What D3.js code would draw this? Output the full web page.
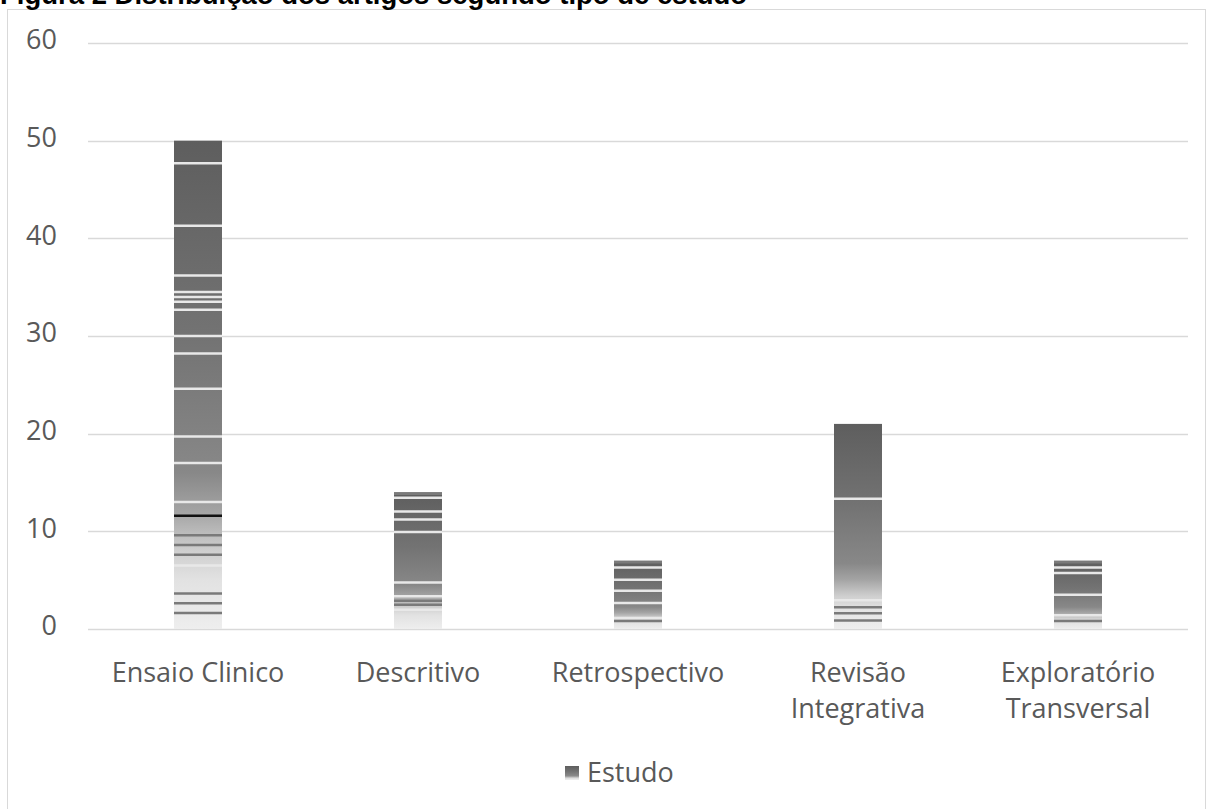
<!DOCTYPE html>
<html>
<head>
<meta charset="utf-8">
<script src="https://cdn.jsdelivr.net/npm/d3@7"></script>
<style>
  body { margin: 0; background: #fff; }
  svg text { font-family: "Open Sans", "Noto Sans", sans-serif; fill: #595959; }
</style>
</head>
<body>
<script>
// values
const categories = [["Ensaio Clinico"], ["Descritivo"], ["Retrospectivo"], ["Revisão", "Integrativa"], ["Exploratório", "Transversal"]];
const values = [50, 14, 7, 21, 7];
const yTicks = [0, 10, 20, 30, 40, 50, 60];
const seriesName = "Estudo";
const title = "Figura 2 Distribuição dos artigos segundo tipo de estudo";

// banding of the original fill, as fractions of each bar from its top
const stripesLight = [
  [0.046, 0.174, 0.276, 0.31, 0.32, 0.33, 0.346, 0.4, 0.436, 0.508, 0.606, 0.66, 0.74, 0.87],
  [0.04, 0.14, 0.2, 0.29, 0.66, 0.76, 0.86],
  [0.1, 0.28, 0.44, 0.62, 0.84],
  [0.365, 0.86],
  [0.1, 0.18, 0.5, 0.8]
];
const stripesDark = [
  [0.77, 0.81, 0.83, 0.85, 0.93, 0.95, 0.97],
  [0.0, 0.8, 0.83],
  [0.0, 0.9],
  [0.9, 0.93, 0.965],
  [0.0, 0.9]
];

const width = 1207, height = 809;
const margin = {left: 88, right: 19, top: 43};

const svg = d3.select("body").append("svg")
    .attr("width", width)
    .attr("height", height);

// chart frame
svg.append("rect")
    .attr("x", 7.5).attr("y", 9.5)
    .attr("width", 1198).attr("height", 820)
    .attr("fill", "none")
    .attr("stroke", "#d9d9d9");

svg.append("text")
    .attr("x", 0).attr("y", 4)
    .style("font-family", "'Liberation Sans', Arial, sans-serif")
    .style("font-weight", "bold")
    .style("font-size", "27.5px")
    .style("fill", "#000")
    .text(title);

const x = d3.scaleBand()
    .domain(d3.range(categories.length))
    .range([margin.left, width - margin.right]);

const y = d3.scaleLinear()
    .domain([0, 60])
    .range([629, margin.top]);

// gridlines
svg.append("g")
    .selectAll("line")
    .data(yTicks)
    .join("line")
    .attr("x1", margin.left).attr("x2", width - margin.right)
    .attr("y1", d => Math.round(y(d)) + 0.5).attr("y2", d => Math.round(y(d)) + 0.5)
    .attr("stroke", "#d9d9d9")
    .attr("stroke-width", 1.3);

// y labels
svg.append("g")
    .selectAll("text")
    .data(yTicks)
    .join("text")
    .attr("x", 57)
    .attr("y", d => y(d) - 3)
    .attr("dy", "0.35em")
    .attr("text-anchor", "end")
    .style("font-size", "27px")
    .text(d => d);

// gradient fill that imitates the grey of the original
const defs = svg.append("defs");
const grad = defs.append("linearGradient")
    .attr("id", "barGrad")
    .attr("x1", 0).attr("y1", 0).attr("x2", 0).attr("y2", 1);
[[0, "#5e5e5e"], [0.4, "#737373"], [0.68, "#888888"], [0.76, "#a4a4a4"],
 [0.84, "#cfcfcf"], [0.9, "#e2e2e2"], [1, "#eeeeee"]]
  .forEach(s => grad.append("stop").attr("offset", s[0]).attr("stop-color", s[1]));

const barW = 48;
const bars = svg.append("g")
    .selectAll("g")
    .data(values)
    .join("g");

bars.append("rect")
    .attr("x", (d, i) => x(i) + x.bandwidth() / 2 - barW / 2)
    .attr("y", d => y(d))
    .attr("width", barW)
    .attr("height", d => y(0) - y(d))
    .attr("fill", "url(#barGrad)");

bars.each(function(d, i) {
    const g = d3.select(this);
    const top = y(d), h = y(0) - y(d);
    const x0 = x(i) + x.bandwidth() / 2 - barW / 2;
    g.selectAll("line.lt")
        .data(stripesLight[i])
        .join("line")
        .attr("class", "lt")
        .attr("x1", x0).attr("x2", x0 + barW)
        .attr("y1", s => top + s * h).attr("y2", s => top + s * h)
        .attr("stroke", "#e8e8e8")
        .attr("stroke-width", 2.5);
    g.selectAll("line.dk")
        .data(stripesDark[i])
        .join("line")
        .attr("class", "dk")
        .attr("x1", x0).attr("x2", x0 + barW)
        .attr("y1", s => top + 1.5 + s * (h - 3)).attr("y2", s => top + 1.5 + s * (h - 3))
        .attr("stroke", (s, k) => i === 0 && k === 0 ? "#111" : "#7a7a7a")
        .attr("stroke-width", 2.5);
});

// x labels
const xl = svg.append("g")
    .selectAll("text")
    .data(categories)
    .join("text")
    .attr("x", (d, i) => x(i) + x.bandwidth() / 2)
    .attr("y", 682)
    .attr("text-anchor", "middle")
    .style("font-size", "27px");
xl.selectAll("tspan")
    .data(d => d)
    .join("tspan")
    .attr("x", function() { return d3.select(this.parentNode).attr("x"); })
    .attr("dy", (d, k) => k === 0 ? 0 : 36)
    .text(d => d);

// legend
const leg = svg.append("g").attr("transform", "translate(565,766)");
leg.append("rect")
    .attr("width", 14).attr("height", 14)
    .attr("fill", "url(#barGrad)");
leg.append("text")
    .attr("x", 22).attr("y", 7)
    .attr("dy", "0.35em")
    .style("font-size", "27px")
    .text(seriesName);
</script>
</body>
</html>
